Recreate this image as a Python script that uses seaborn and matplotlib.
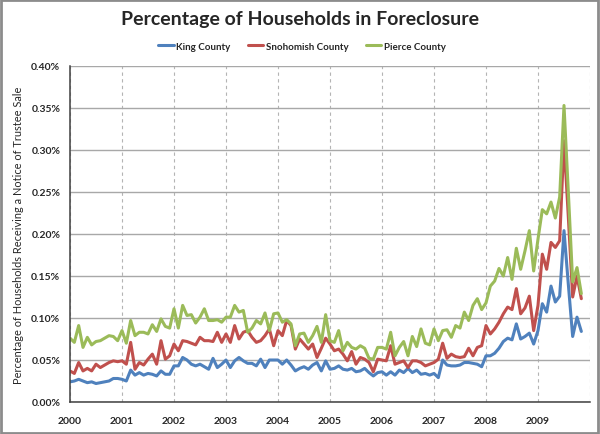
import numpy as np
import pandas as pd
import seaborn as sns
from matplotlib import pyplot as plt
from matplotlib.patches import Rectangle
from matplotlib.ticker import FuncFormatter, MultipleLocator

# monthly share of households, in percent, Jan 2000 .. Nov 2009
king = [0.024, 0.025, 0.027, 0.025, 0.023, 0.024, 0.022, 0.023, 0.024, 0.025, 0.028, 0.028,
        0.027, 0.025, 0.038, 0.032, 0.035, 0.032, 0.034, 0.033, 0.031, 0.037, 0.033, 0.033,
        0.043, 0.043, 0.053, 0.050, 0.045, 0.043, 0.045, 0.042, 0.039, 0.052, 0.041, 0.045,
        0.050, 0.041, 0.049, 0.053, 0.049, 0.046, 0.046, 0.043, 0.051, 0.041, 0.050, 0.050,
        0.050, 0.045, 0.050, 0.044, 0.037, 0.040, 0.042, 0.039, 0.044, 0.047, 0.037, 0.049,
        0.039, 0.040, 0.043, 0.039, 0.038, 0.040, 0.036, 0.037, 0.040, 0.035, 0.031, 0.035,
        0.036, 0.032, 0.036, 0.032, 0.038, 0.035, 0.040, 0.035, 0.038, 0.033, 0.034, 0.032,
        0.034, 0.029, 0.050, 0.044, 0.043, 0.043, 0.044, 0.047, 0.047, 0.046, 0.045, 0.042,
        0.055, 0.055, 0.058, 0.064, 0.072, 0.076, 0.074, 0.093, 0.075, 0.078, 0.082, 0.069,
        0.085, 0.117, 0.107, 0.138, 0.119, 0.126, 0.204, 0.140, 0.078, 0.101, 0.084]
snohomish = [0.037, 0.034, 0.047, 0.037, 0.040, 0.037, 0.045, 0.041, 0.044, 0.047, 0.049, 0.048,
             0.049, 0.045, 0.071, 0.039, 0.047, 0.044, 0.051, 0.057, 0.045, 0.073, 0.051, 0.055,
             0.069, 0.061, 0.073, 0.072, 0.070, 0.068, 0.077, 0.073, 0.073, 0.072, 0.083, 0.071,
             0.081, 0.071, 0.091, 0.075, 0.083, 0.085, 0.077, 0.071, 0.073, 0.079, 0.087, 0.067,
             0.085, 0.079, 0.097, 0.091, 0.063, 0.075, 0.069, 0.063, 0.069, 0.053, 0.064, 0.076,
             0.069, 0.061, 0.063, 0.057, 0.049, 0.060, 0.045, 0.053, 0.051, 0.047, 0.036, 0.051,
             0.050, 0.049, 0.067, 0.045, 0.047, 0.049, 0.041, 0.049, 0.049, 0.047, 0.043, 0.045,
             0.047, 0.051, 0.070, 0.052, 0.057, 0.054, 0.053, 0.054, 0.064, 0.055, 0.065, 0.067,
             0.091, 0.081, 0.087, 0.095, 0.105, 0.113, 0.110, 0.135, 0.105, 0.112, 0.126, 0.085,
             0.115, 0.176, 0.158, 0.190, 0.184, 0.192, 0.311, 0.220, 0.125, 0.150, 0.123]
pierce = [0.076, 0.071, 0.091, 0.065, 0.077, 0.068, 0.072, 0.073, 0.076, 0.079, 0.078, 0.073,
          0.085, 0.070, 0.097, 0.079, 0.083, 0.083, 0.081, 0.092, 0.084, 0.099, 0.090, 0.088,
          0.111, 0.088, 0.115, 0.103, 0.104, 0.094, 0.101, 0.111, 0.097, 0.097, 0.098, 0.095,
          0.101, 0.101, 0.115, 0.107, 0.109, 0.083, 0.088, 0.097, 0.093, 0.106, 0.085, 0.105,
          0.106, 0.095, 0.098, 0.093, 0.067, 0.081, 0.082, 0.071, 0.079, 0.090, 0.071, 0.104,
          0.073, 0.071, 0.085, 0.061, 0.071, 0.065, 0.063, 0.067, 0.064, 0.052, 0.051, 0.065,
          0.065, 0.063, 0.083, 0.055, 0.065, 0.072, 0.055, 0.078, 0.066, 0.087, 0.070, 0.068,
          0.087, 0.073, 0.085, 0.086, 0.077, 0.091, 0.088, 0.107, 0.097, 0.115, 0.123, 0.110,
          0.118, 0.138, 0.144, 0.159, 0.150, 0.172, 0.146, 0.183, 0.158, 0.180, 0.204, 0.156,
          0.194, 0.229, 0.224, 0.238, 0.219, 0.244, 0.353, 0.250, 0.143, 0.160, 0.129]

counties = ["King County", "Snohomish County", "Pierce County"]
colors = ["#4F81BD", "#C0504D", "#9BBB59"]
year_ticks = list(range(2000, 2011))
year_labels = [str(y) for y in range(2000, 2010)] + [""]

months = 2000 + np.arange(len(king)) / 12.0
df = pd.DataFrame({
    "date": np.tile(months, 3),
    "pct": king + snohomish + pierce,
    "county": np.repeat(counties, len(king)),
})

sns.set_style("white")
plt.rcParams['font.family'] = ['Lato', 'DejaVu Sans']

fig = plt.figure(figsize=(6, 4.35), dpi=100)
ax = fig.add_axes([70 / 600, 1 - 403 / 435, 520 / 600, 336 / 435])

sns.lineplot(data=df, x="date", y="pct", hue="county", hue_order=counties,
             palette=colors, linewidth=2.2, ax=ax)

ax.set_xlim(2000, 2010)
ax.set_ylim(0, 0.40)
ax.set_xticks(year_ticks)
ax.set_xticklabels(year_labels)
ax.yaxis.set_major_locator(MultipleLocator(0.05))
ax.yaxis.set_major_formatter(FuncFormatter(lambda v, p: "%.2f%%" % v))

ax.yaxis.grid(True, color='#a8a8a8', linewidth=1.0, linestyle='-')
ax.xaxis.grid(True, color='#b4b4b4', linewidth=0.8, linestyle=(0, (3, 3)))
ax.set_axisbelow(True)
for side in ['top', 'right']:
    ax.spines[side].set_visible(False)
for side in ['left', 'bottom']:
    ax.spines[side].set_color('#404040')
    ax.spines[side].set_linewidth(1.1)

ax.tick_params(axis='both', direction='out', length=3, width=1, color='#404040',
               labelsize=7.5)
ax.tick_params(axis='y', pad=4)
ax.tick_params(axis='x', pad=7)
for lbl in ax.get_xticklabels() + ax.get_yticklabels():
    lbl.set_fontweight('bold')

ax.set_xlabel("")
ax.set_ylabel("Percentage of Households Receiving a Notice of Trustee Sale",
              fontsize=7.9)
ax.yaxis.set_label_coords(-0.088, 0.5)

handles, labels = ax.get_legend_handles_labels()
ax.legend_.remove()
leg = fig.legend(handles, labels, loc='center', bbox_to_anchor=(0.503, 1 - 47 / 435),
                 ncol=3, frameon=False, handlelength=1.6, handletextpad=0.25,
                 columnspacing=1.8, prop={'size': 7, 'weight': 'bold'})

fig.text(0.5, 1 - 19 / 435, "Percentage of Households in Foreclosure",
         ha='center', va='center', fontsize=14, fontweight='bold')

fig.add_artist(Rectangle((0.002, 0.003), 0.994, 0.994, transform=fig.transFigure,
                         fill=False, edgecolor='#8c8c8c', linewidth=2))

fig.savefig("out.png", dpi=100)
